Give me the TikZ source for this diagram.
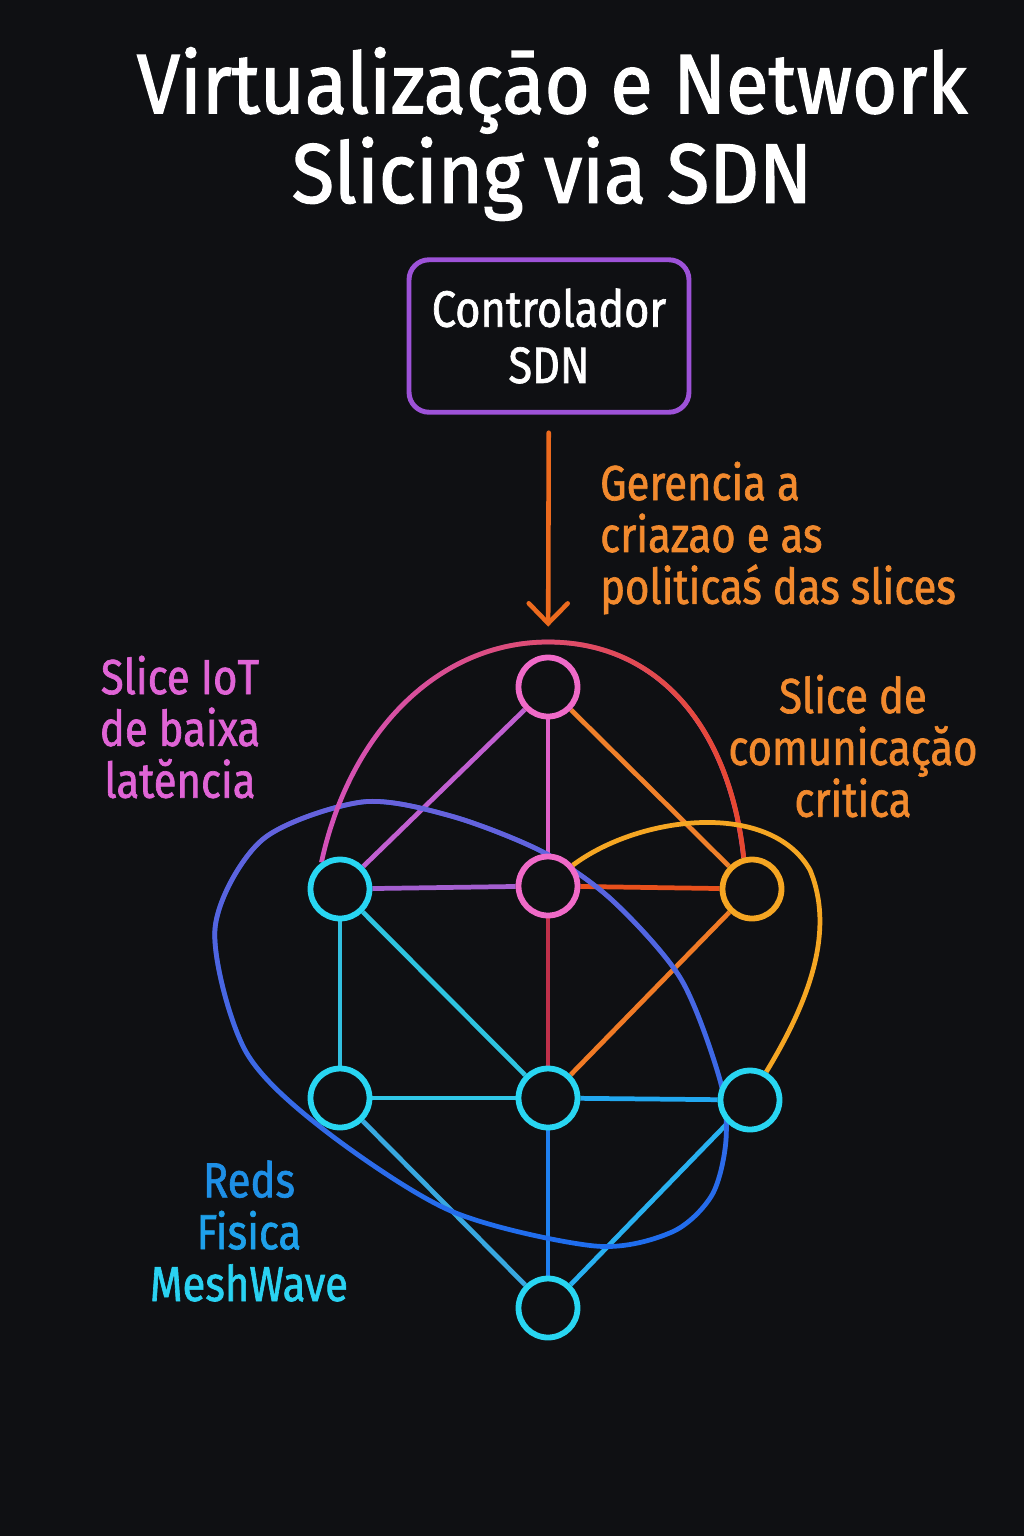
\documentclass[tikz,border=0pt]{standalone}
\usepackage{fontspec}
\setmainfont{Fira Sans}[FakeStretch=0.85,FakeBold=1.3]
\newfontfamily\titlefont{Fira Sans}[FakeStretch=0.92,FakeBold=1.6]
\usepackage{tikz}
\usetikzlibrary{arrows.meta,fadings}
\definecolor{bg}{HTML}{0F1013}
\definecolor{ctl}{HTML}{9D52D8}
\definecolor{org}{HTML}{F28A2E}
\definecolor{pnk}{HTML}{E064D6}
\definecolor{cyn}{HTML}{28D6F2}
\definecolor{pnode}{HTML}{F06AC8}
\definecolor{amb}{HTML}{F5A623}
\definecolor{arr}{HTML}{EC6A1E}
\definecolor{slpink}{HTML}{D452BC}
\definecolor{slred}{HTML}{E8482E}
\definecolor{slblue}{HTML}{1E6EEE}
\definecolor{slviolet}{HTML}{6A62DC}
\definecolor{eab}{HTML}{C05FD0}
\definecolor{eac}{HTML}{E060C8}
\definecolor{ead}{HTML}{F0802A}
\definecolor{ebc}{HTML}{A45FD0}
\definecolor{ecd}{HTML}{E8501C}
\definecolor{ebe}{HTML}{32C0E0}
\definecolor{ebf}{HTML}{2EC4E0}
\definecolor{ecf}{HTML}{C0304A}
\definecolor{edf}{HTML}{F07A25}
\definecolor{eef}{HTML}{30C8E8}
\definecolor{efg}{HTML}{22A8F0}
\definecolor{efh}{HTML}{1F80F0}
\definecolor{eeh}{HTML}{38A8E0}
\definecolor{egh}{HTML}{28B0F0}
\pgfdeclarelayer{back}
\pgfdeclarelayer{lines}
\pgfsetlayers{back,lines,main}

\begin{document}
\begin{tikzpicture}[x=0.02cm,y=-0.02cm,
    nd/.style={circle,draw=#1,line width=3.3pt,fill=bg,minimum size=1.18cm,inner sep=0pt},
    ed/.style={draw=#1,line width=2.7pt},
    sl/.style={draw=#1,line width=2.7pt},
    lbl/.style={font=\fontsize{28}{29.5}\selectfont,align=center}]
    \begin{pgfonlayer}{back}
    \fill[bg] (0,0) rectangle (1024,1536);
    \end{pgfonlayer}
    \node[text=white,font=\titlefont\fontsize{48}{51}\selectfont,align=center] (title) at (552,134) {Virtualizaçāo e Network\\Slicing via SDN};
    \node[draw=ctl,line width=2.8pt,rounded corners=0.4cm,minimum width=5.6cm,minimum height=3.05cm,
        text=white,font=\fontsize{29}{32}\selectfont,align=center] (ctl) at (549,336) {Controlador\\SDN};
    \node[lbl,text=org,align=left,anchor=west] (gest) at (594,538) {Gerencia a\\criazao e as\\politicaś das slices};
    \node[lbl,text=pnk] (iot) at (180,727) {Slice IoT\\de baixa\\latĕncia};
    \node[lbl,text=org] (crit) at (853,746) {Slice de\\comunicaçăo\\critica};
    \node[lbl] (fis) at (249,1231) {\textcolor[HTML]{1E8FE6}{Reds}\\\textcolor[HTML]{1EA0EA}{Fisica}\\\textcolor[HTML]{2AD2F2}{MeshWave}};
    \node[nd=pnode] (a) at (548,687) {};
    \node[nd=cyn] (b) at (340,889) {};
    \node[nd=pnode] (c) at (548,886) {};
    \node[nd=amb] (d) at (752,889) {};
    \node[nd=cyn] (e) at (340,1098) {};
    \node[nd=cyn] (f) at (548,1098) {};
    \node[nd=cyn] (g) at (750,1100) {};
    \node[nd=cyn] (h) at (548,1308) {};
    \draw[arr,line width=2.6pt,line cap=round,shorten <=0.36cm,shorten >=0.56cm,
        -{Straight Barb[length=0.4cm,width=0.78cm,line cap=round]}] (ctl) -- (a);
    \begin{pgfonlayer}{lines}
    \draw[ed=eab] (a) -- (b);
    \draw[ed=eac] (a) -- (c);
    \draw[ed=ead] (a) -- (d);
    \draw[ed=ebc] (b) -- (c);
    \draw[ed=ecd] (c) -- (d);
    \draw[ed=ebe] (b) -- (e);
    \draw[ed=ebf] (b) -- (f);
    \draw[ed=ecf] (c) -- (f);
    \draw[ed=edf] (d) -- (f);
    \draw[ed=eef] (e) -- (f);
    \draw[ed=efg] (f) -- (g);
    \draw[ed=efh] (f) -- (h);
    \draw[ed=eeh] (e) -- (h);
    \draw[ed=egh] (g) -- (h);
    \draw[sl=slblue] plot[smooth cycle] coordinates {(362,802) (451,816) (543,852) (612,900) (681,979)
        (720,1080) (726,1140) (712,1195) (672,1232) (595,1246) (451,1211) (323,1129) (245,1050) (215,929) (262,840)};
    \draw[sl=slviolet,path fading=south] plot[smooth cycle] coordinates {(362,802) (451,816) (543,852) (612,900) (681,979)
        (720,1080) (726,1140) (712,1195) (672,1232) (595,1246) (451,1211) (323,1129) (245,1050) (215,929) (262,840)};
    \draw[sl=slpink] (b.125) .. controls (350,730) and (440,642) .. (548,642) .. controls (660,642) and (730,730) .. (d.105);
    \draw[sl=slred,path fading=west] (b.125) .. controls (350,730) and (440,642) .. (548,642) .. controls (660,642) and (730,730) .. (d.105);
    \draw[sl=amb] (c.40) .. controls (640,815) and (770,800) .. (810,870) .. controls (835,930) and (810,1000) .. (g.60);
    \end{pgfonlayer}
\end{tikzpicture}
\end{document}
